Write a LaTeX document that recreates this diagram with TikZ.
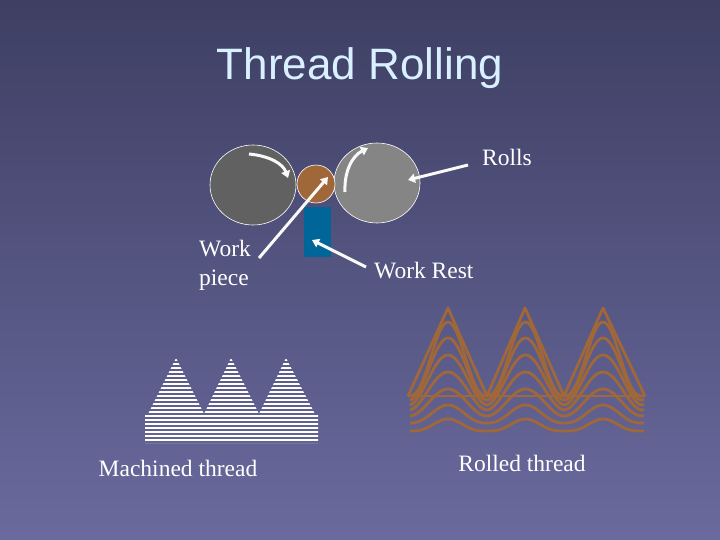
\documentclass[tikz,border=0pt]{standalone}
\usepackage{fontspec}
\setmainfont{Liberation Serif}
\newfontfamily\titlefont{Liberation Sans}
\usetikzlibrary{arrows.meta}
\definecolor{bgtop}{HTML}{3E3F63}
\definecolor{bgbot}{HTML}{6A6A9E}
\definecolor{titlec}{HTML}{D8F0FF}
\definecolor{brownc}{HTML}{A06838}
\definecolor{restc}{HTML}{006699}
\tikzset{
 lbl/.style={text=white,font=\fontsize{23.5}{27}\selectfont,inner sep=0pt},
 ptr/.style={draw=white!95!gray,line width=3pt,-{Triangle[length=7pt,width=9pt]}},
 wave/.style={draw=brownc,line width=2.8pt,line join=round},
}
\begin{document}
\begin{tikzpicture}[x=1pt,y=-1pt]
\useasboundingbox (0,0) rectangle (720,540);
\shade[top color=bgtop,bottom color=bgbot] (0,0) rectangle (720,540);
\node[text=titlec,font=\titlefont\fontsize{44}{48}\selectfont] (title) at (360,68) {Thread Rolling};
% rolls
\draw[white,line width=0.6pt,fill=black!62] (253,185) ellipse [x radius=43,y radius=40];
\draw[white,line width=0.6pt,fill=black!48] (377,183) ellipse [x radius=43,y radius=40];
\node[circle,draw=white,line width=0.6pt,fill=brownc,minimum size=38pt,inner sep=0pt] (wp) at (316,184) {};
\node[rectangle,fill=restc,minimum width=27pt,minimum height=50pt,inner sep=0pt] (rest) at (317.5,232) {};
\coordinate (r1a) at (249,154);
\coordinate (r2a) at (345,192);
\draw[ptr] (r1a) .. controls (270,156) and (283,164) .. (288,178);
\draw[ptr] (r2a) .. controls (344,172) and (352,156) .. (368,148);
% labels
\node[lbl,anchor=west] (rolls) at (482,157) {Rolls};
\node[lbl,anchor=north west,align=left] (wpl) at (199,240) {Work\\[2pt]piece};
\node[lbl,anchor=west] (restl) at (374,271) {Work Rest};
\coordinate (rollsS) at (468,165);
\coordinate (rollT) at (408,180);
\coordinate (wpS) at (259,258);
\coordinate (wpT) at (328,177);
\coordinate (rsS) at (366,267);
\coordinate (rsT) at (312,240);
\draw[ptr] (rollsS) -- (rollT);
\draw[ptr] (wpS) -- (wpT);
\draw[ptr] (rsS) -- (rsT);
% machined thread
\begin{scope}
\clip (148,414) -- (176,358) -- (204,414) -- (231,358) -- (259,414) -- (286,358) -- (315,414) -- (318,414) -- (318,443) -- (145,443) -- (145,414) -- cycle;
\foreach \y in {359,363,...,443} \fill[white] (140,\y) rectangle (320,\y+2.3);
\end{scope}
\node[lbl,anchor=center] (mlab) at (178,468) {Machined thread};
% rolled thread
\draw[wave] (408,396) -- (448,308) -- (487,396) -- (525,308) -- (564,396) -- (603,308) -- (645,396);
\draw[wave] (408,396) -- (645,396);
\foreach \vb/\pk/\pw in {396/322/1.2, 400/338/1.0, 405/355/0.9, 410/372/0.9, 416/389/1.0, 423/405/1.3, 431/419/1.6}{
  \draw[wave] plot[domain=410:644,samples=120,smooth] (\x,{\vb-(\vb-\pk)*exp(\pw*ln(max(0.001,(1+cos(4.645*(\x-448)))/2)))});
}
\node[lbl,anchor=center] (rlab) at (522,463) {Rolled thread};
\end{tikzpicture}
\end{document}
